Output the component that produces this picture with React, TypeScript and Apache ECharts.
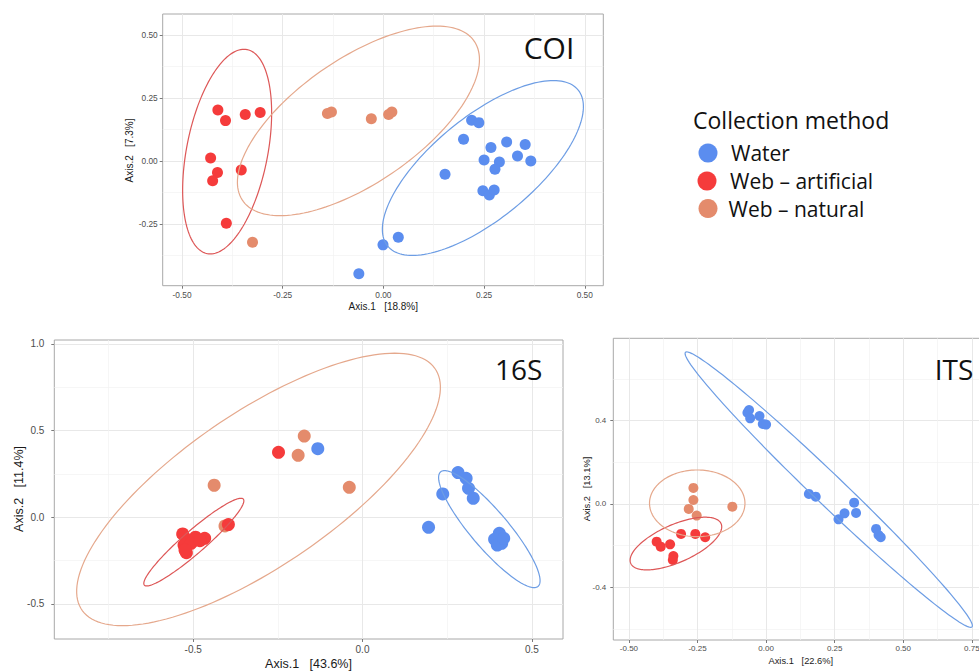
import React, { useEffect, useRef } from "react";
import * as echarts from "echarts";

// ---------- categories ----------
const GROUPS = ["Water", "Web – artificial", "Web – natural"];
const PANEL_NAMES = ["COI", "16S", "ITS"];
const AXIS1_TITLES = ["Axis.1   [18.8%]", "Axis.1   [43.6%]", "Axis.1   [22.6%]"];
const AXIS2_TITLES = ["Axis.2   [7.3%]", "Axis.2   [11.4%]", "Axis.2   [13.1%]"];

// ---------- COI ----------
const coiWater = [
  [0.219, 0.161], [0.237, 0.152], [0.199, 0.086], [0.267, 0.053], [0.306, 0.075], [0.352, 0.065],
  [0.333, 0.02], [0.366, 0.0], [0.25, 0.004], [0.288, -0.004], [0.277, -0.033], [0.153, -0.053],
  [0.247, -0.118], [0.263, -0.135], [0.275, -0.115], [0.037, -0.303], [-0.001, -0.333], [-0.061, -0.448],
];
const coiArtificial = [
  [-0.411, 0.202], [-0.392, 0.16], [-0.343, 0.184], [-0.306, 0.192], [-0.429, 0.012],
  [-0.412, -0.046], [-0.424, -0.079], [-0.353, -0.036], [-0.39, -0.247],
];
const coiNatural = [
  [-0.139, 0.188], [-0.129, 0.194], [-0.03, 0.167], [0.013, 0.184], [0.021, 0.194], [-0.325, -0.323],
];
// ellipse: [centerX, centerY, halfWidthX, halfHeightY, xOffsetOfTopPoint]  (Water, artificial, natural)
const coiEllipses = [
  [0.247, -0.028, 0.2496, 0.347, 0.175],
  [-0.388, 0.037, 0.1105, 0.406, 0.0418],
  [-0.062, 0.159, 0.3005, 0.376, 0.1945],
];
const coiXTicks = [-0.5, -0.25, 0, 0.25, 0.5];
const coiYTicks = [-0.25, 0, 0.25, 0.5];
const coiXMinor = [-0.375, -0.125, 0.125, 0.375];
const coiYMinor = [-0.375, -0.125, 0.125, 0.375];

// ---------- 16S ----------
const s16Water = [
  [-0.132, 0.396], [0.195, -0.058], [0.237, 0.135], [0.282, 0.258], [0.306, 0.225], [0.313, 0.167],
  [0.327, 0.11], [0.404, -0.092], [0.39, -0.127], [0.411, -0.15], [0.398, -0.16], [0.417, -0.121],
];
const s16Artificial = [
  [-0.248, 0.375], [-0.396, -0.042], [-0.531, -0.096], [-0.512, -0.131], [-0.493, -0.115],
  [-0.466, -0.121], [-0.527, -0.16], [-0.52, -0.204], [-0.506, -0.15], [-0.48, -0.135], [-0.524, -0.188],
];
const s16Natural = [
  [-0.172, 0.469], [-0.19, 0.358], [-0.438, 0.185], [-0.039, 0.173], [-0.406, -0.05],
];
const s16Ellipses = [
  [0.3745, -0.068, 0.1498, 0.3375, -0.132],
  [-0.498, -0.143, 0.1477, 0.253, 0.139],
  [-0.307, 0.161, 0.537, 0.786, 0.402],
];
const s16XTicks = [-0.5, 0, 0.5];
const s16YTicks = [-0.5, 0, 0.5, 1.0];
const s16XMinor = [-0.75, -0.25, 0.25];
const s16YMinor = [-0.25, 0.25, 0.75];

// ---------- ITS ----------
const itsWater = [
  [-0.062, 0.451], [-0.068, 0.438], [-0.058, 0.411], [-0.024, 0.422], [-0.012, 0.384], [0.0, 0.381],
  [0.156, 0.048], [0.181, 0.035], [0.264, -0.074], [0.286, -0.045], [0.321, 0.006], [0.328, -0.043],
  [0.401, -0.12], [0.41, -0.149], [0.418, -0.16],
];
const itsArtificial = [
  [-0.399, -0.181], [-0.384, -0.205], [-0.35, -0.194], [-0.31, -0.144], [-0.258, -0.144],
  [-0.222, -0.16], [-0.338, -0.25], [-0.34, -0.269],
];
const itsNatural = [
  [-0.265, 0.077], [-0.265, 0.019], [-0.282, -0.024], [-0.253, -0.056], [-0.123, -0.013],
];
const itsEllipses = [
  [0.2284, 0.0688, 0.5237, 0.661, -0.5176],
  [-0.3287, -0.19, 0.167, 0.1264, 0.106],
  [-0.251, 0.003, 0.174, 0.16, 0.0],
];
const itsXTicks = [-0.5, -0.25, 0, 0.25, 0.5, 0.75];
const itsYTicks = [-0.4, 0, 0.4];
const itsXMinor = [-0.375, -0.125, 0.125, 0.375, 0.625];
const itsYMinor = [-0.6, -0.2, 0.2, 0.6];

// ---------- styling ----------
const POINT_COLORS = ["#5b8def", "#f53b3b", "#e48b6c"];
const ELLIPSE_COLORS = ["#6d9de4", "#dd5757", "#e5a88c"];
const TICK_FONT = "Liberation Sans";
const LABEL_FONT = "Open Sans";

const PANELS = [
  {
    points: [coiWater, coiArtificial, coiNatural], ellipses: coiEllipses,
    xTicks: coiXTicks, yTicks: coiYTicks, xMinor: coiXMinor, yMinor: coiYMinor, xDigits: 2, yDigits: 2,
    layout: { left: 162.7, top: 14, width: 440.6, height: 271.7, xMin: -0.548, xMax: 0.546, yMin: -0.495, yMax: 0.583,
      tickFont: 8.3, titleFont: 10, symbol: 11, xMargin: 5, yMargin: 5,
      xTitle: [383.3, 306], yTitle: [129.3, 150.5], name: [549, 47.5], nameFont: 30 },
  },
  {
    points: [s16Water, s16Artificial, s16Natural], ellipses: s16Ellipses,
    xTicks: s16XTicks, yTicks: s16YTicks, xMinor: s16XMinor, yMinor: s16YMinor, xDigits: 1, yDigits: 1,
    layout: { left: 54.3, top: 340, width: 508.7, height: 299, xMin: -0.91, xMax: 0.592, yMin: -0.702, yMax: 1.023,
      tickFont: 10, titleFont: 12.5, symbol: 13, xMargin: 5, yMargin: 10,
      xTitle: [308.5, 664], yTitle: [19.4, 489], name: [518.7, 369], nameFont: 28 },
  },
  {
    points: [itsWater, itsArtificial, itsNatural], ellipses: itsEllipses,
    xTicks: itsXTicks, yTicks: itsYTicks, xMinor: itsXMinor, yMinor: itsYMinor, xDigits: 2, yDigits: 1,
    layout: { left: 613.3, top: 338.3, width: 381, height: 301.7, xMin: -0.557, xMax: 0.832, yMin: -0.653, yMax: 0.795,
      tickFont: 8, titleFont: 9.3, symbol: 10, xMargin: 4, yMargin: 7,
      xTitle: [800.8, 661], yTitle: [587.3, 489], name: [954, 369], nameFont: 28 },
  },
];

function ellipseSeries(name: string, params: number[], xi: number, yi: number, color: string) {
  return {
    type: "custom",
    name,
    xAxisIndex: xi,
    yAxisIndex: yi,
    silent: true,
    clip: false,
    z: 4,
    data: [params],
    encode: { x: 0, y: 1 },
    renderItem: (_p: any, api: any) => {
      const cx = api.value(0), cy = api.value(1), rx = api.value(2), ry = api.value(3), tx = api.value(4);
      const sx = Math.sqrt(Math.max(rx * rx - tx * tx, 0));
      const pts: number[][] = [];
      const n = 160;
      for (let i = 0; i < n; i++) {
        const t = (i / n) * Math.PI * 2;
        pts.push(api.coord([cx + tx * Math.cos(t) + sx * Math.sin(t), cy + ry * Math.cos(t)]));
      }
      return {
        type: "polygon",
        shape: { points: pts },
        style: { fill: "none", stroke: color, lineWidth: 1.2 },
      };
    },
  };
}

function textEl(text: string, x: number, y: number, size: number, family: string, fill: string, align = "center", rotation = 0) {
  return {
    type: "text",
    x,
    y,
    rotation,
    z: 10,
    style: {
      text,
      fill,
      fontSize: size,
      fontFamily: family,
      textAlign: align,
      align,
      textVerticalAlign: "middle",
      verticalAlign: "middle",
    },
  };
}

export default function App() {
  const ref = useRef<HTMLDivElement>(null);

  useEffect(() => {
    if (!ref.current) return;
    const chart = echarts.init(ref.current, undefined, { renderer: "svg" });

    const grid: any[] = [];
    const xAxis: any[] = [];
    const yAxis: any[] = [];
    const series: any[] = [];
    const graphic: any[] = [];

    PANELS.forEach((p, i) => {
      const L = p.layout;
      grid.push({
        left: L.left, top: L.top, width: L.width, height: L.height,
        show: true, borderColor: "#a8a8a8", borderWidth: 1, backgroundColor: "#ffffff",
        containLabel: false, outerBoundsMode: "none",
      });
      const xFmt = (v: number) => v.toFixed(p.xDigits);
      const yFmt = (v: number) => v.toFixed(p.yDigits);
      xAxis.push({
        type: "value", gridIndex: i, position: "bottom", min: L.xMin, max: L.xMax,
        axisLine: { show: false, onZero: false },
        axisTick: { show: true, length: 3, lineStyle: { color: "#7a7a7a" }, customValues: p.xTicks },
        axisLabel: { customValues: p.xTicks, formatter: xFmt, fontSize: L.tickFont, color: "#4d4d4d", fontFamily: TICK_FONT, margin: L.xMargin },
        splitLine: { show: true, lineStyle: { color: "#e8e8e8", width: 1 } },
      });
      xAxis.push({
        type: "value", gridIndex: i, position: "top", min: L.xMin, max: L.xMax,
        axisLine: { show: false, onZero: false },
        axisTick: { show: false, customValues: p.xMinor },
        axisLabel: { show: false, customValues: p.xMinor },
        splitLine: { show: true, lineStyle: { color: "#f2f2f2", width: 0.7 } },
      });
      yAxis.push({
        type: "value", gridIndex: i, position: "left", min: L.yMin, max: L.yMax,
        axisLine: { show: false, onZero: false },
        axisTick: { show: true, length: 3, lineStyle: { color: "#7a7a7a" }, customValues: p.yTicks },
        axisLabel: { customValues: p.yTicks, formatter: yFmt, fontSize: L.tickFont, color: "#4d4d4d", fontFamily: TICK_FONT, margin: L.yMargin },
        splitLine: { show: true, lineStyle: { color: "#e8e8e8", width: 1 } },
      });
      yAxis.push({
        type: "value", gridIndex: i, position: "right", min: L.yMin, max: L.yMax,
        axisLine: { show: false, onZero: false },
        axisTick: { show: false, customValues: p.yMinor },
        axisLabel: { show: false, customValues: p.yMinor },
        splitLine: { show: true, lineStyle: { color: "#f2f2f2", width: 0.7 } },
      });

      const xi = 2 * i;
      const yi = 2 * i;
      // draw order: natural, water, artificial
      [2, 0, 1].forEach((g) => {
        series.push({
          type: "scatter",
          name: GROUPS[g],
          xAxisIndex: xi,
          yAxisIndex: yi,
          data: p.points[g],
          symbol: "circle",
          symbolSize: L.symbol,
          itemStyle: { color: POINT_COLORS[g], opacity: 1 },
          silent: true,
          z: 3,
        });
      });
      [0, 1, 2].forEach((g) => {
        series.push(ellipseSeries(GROUPS[g] + " ellipse", p.ellipses[g], xi, yi, ELLIPSE_COLORS[g]));
      });

      graphic.push(textEl(AXIS1_TITLES[i], L.xTitle[0], L.xTitle[1], L.titleFont, TICK_FONT, "#1a1a1a"));
      graphic.push(textEl(AXIS2_TITLES[i], L.yTitle[0], L.yTitle[1], L.titleFont, TICK_FONT, "#1a1a1a", "center", Math.PI / 2));
      graphic.push(textEl(PANEL_NAMES[i], L.name[0], L.name[1], L.nameFont, LABEL_FONT, "#111111"));
    });

    // legend
    const legendRows = [
      { cx: 708, cy: 153, tx: 731 },
      { cx: 707, cy: 181, tx: 730 },
      { cx: 708, cy: 208.5, tx: 728.5 },
    ];
    graphic.push(textEl("Collection method", 693, 120, 23, LABEL_FONT, "#111111", "left"));
    GROUPS.forEach((g, k) => {
      const r = legendRows[k];
      graphic.push({ type: "circle", z: 10, shape: { cx: r.cx, cy: r.cy, r: 9.5 }, style: { fill: POINT_COLORS[k] } });
      graphic.push(textEl(g, r.tx, r.cy, 21, LABEL_FONT, "#111111", "left"));
    });

    chart.setOption({
      animation: false,
      backgroundColor: "#ffffff",
      grid,
      xAxis,
      yAxis,
      series,
      graphic,
    });

    return () => chart.dispose();
  }, []);

  return (
    <div
      ref={ref}
      style={{ position: "absolute", left: 0, top: 0, width: 979, height: 671, background: "#fff" }}
    />
  );
}
